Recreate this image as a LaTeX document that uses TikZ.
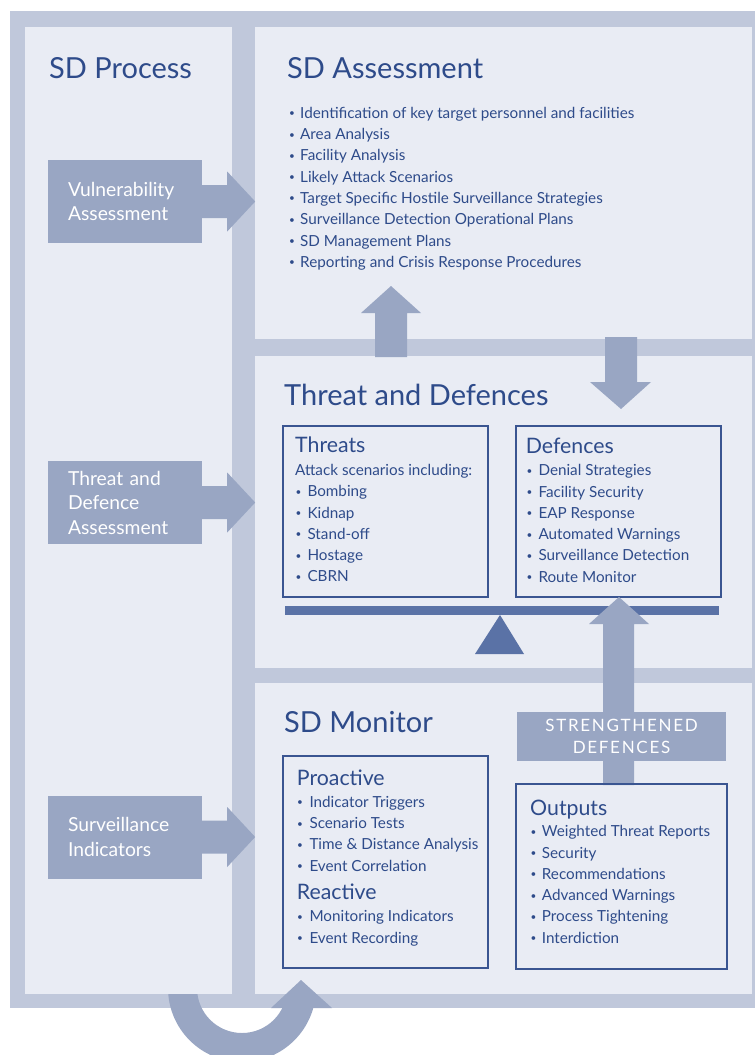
\documentclass[tikz,border=0pt]{standalone}
\usepackage{fontspec}
\setmainfont{Lato}
\usetikzlibrary{calc}
\definecolor{framec}{HTML}{C0C8DB}
\definecolor{panelc}{HTML}{E9ECF4}
\definecolor{arrowc}{HTML}{99A6C3}
\definecolor{textc}{HTML}{2E4B8A}
\definecolor{boxc}{HTML}{3A5591}
\definecolor{beamc}{HTML}{5A72A6}
\tikzset{
  maintitle/.style={anchor=base west,inner sep=0pt,text=textc,font=\fontsize{29}{29}\selectfont},
  subtitle/.style={anchor=base west,inner sep=0pt,text=textc,font=\fontsize{21.3}{21.3}\selectfont},
  itemtext/.style={anchor=base west,inner sep=0pt,text=textc,font=\fontsize{15.25}{15.25}\selectfont},
  bulletdot/.style={anchor=base west,inner sep=0pt,text=textc,font=\fontsize{10}{10}\selectfont,yshift=1.6pt},
  lblbox/.style={fill=arrowc,text=white,minimum width=154pt,minimum height=83pt,text width=114pt,inner xsep=20pt,inner ysep=0pt,align=left,font=\fontsize{19.3}{24.5}\selectfont},
  listbox/.style={draw=boxc,line width=1.6pt,fill=none,inner sep=0pt},
}
\newcommand\sidearrow[1]{%
  \fill[arrowc] ($(#1.east)+(-1,-16.5)$) -- ($(#1.east)+(25,-16.5)$) -- ($(#1.east)+(25,-30)$)
   -- ($(#1.east)+(53,0)$) -- ($(#1.east)+(25,30)$) -- ($(#1.east)+(25,16.5)$) -- ($(#1.east)+(-1,16.5)$) -- cycle;}
\begin{document}
\begin{tikzpicture}[x=1pt,y=-1pt]
\useasboundingbox (0,0) rectangle (755,1055);
\fill[white] (0,0) rectangle (755,1055);
\fill[framec] (10,11) rectangle (755,1008);
% curved return arrow (band)
\fill[arrowc] (168,988) arc[start angle=180,end angle=0,radius=74] -- (287,988) arc[start angle=0,end angle=180,radius=45] -- cycle;
% panels
\fill[panelc] (25,27) rectangle (232,994);
\fill[panelc] (255,27) rectangle (752,339);
\fill[panelc] (255,356) rectangle (752,668);
\fill[panelc] (255,683) rectangle (752,994);
% curved arrow head
\coordinate (ch) at (301,980);
\fill[arrowc] (271,1008) -- (ch) -- (332,1008) -- cycle;

% titles
\node[maintitle] (tp) at (49,78.3) {SD Process};
\node[maintitle] (ta) at (287,78.3) {SD Assessment};
\node[maintitle] (ttd) at (284,405) {Threat and Defences};
\node[maintitle] (tm) at (284,732.7) {SD Monitor};

% assessment list
\foreach \t [count=\i] in {Identification of key target personnel and facilities,Area Analysis,Facility Analysis,Likely Attack Scenarios,Target Specific Hostile Surveillance Strategies,Surveillance Detection Operational Plans,SD Management Plans,Reporting and Crisis Response Procedures}{
  \node[bulletdot] (ab\i) at (288.8,{118.3+21.3*(\i-1)}) {•};
  \node[itemtext] (a\i) at (300,{118.3+21.3*(\i-1)}) {\t};
}

% left process boxes and arrows
\node[lblbox] (va) at (125,201.5) {Vulnerability\\Assessment};
\sidearrow{va}
\node[lblbox] (tda) at (125,502.5) {Threat and\\Defence\\Assessment};
\sidearrow{tda}
\node[lblbox] (si) at (125,837) {Surveillance\\Indicators};
\sidearrow{si}

% up and down arrows between top and middle panels
\coordinate (uptip) at (391,286);
\fill[arrowc] (375,357) -- (375,313) -- (361,313) -- (uptip) -- (421,313) -- (407,313) -- (407,357) -- cycle;
\coordinate (dntip) at (621,409);
\fill[arrowc] (605,337) -- (605,382) -- (590,382) -- (dntip) -- (651,382) -- (637,382) -- (637,337) -- cycle;

% threats box
\node[listbox,minimum width=205pt,minimum height=171pt] (thr) at (385.5,511.5) {};
\node[subtitle] (thrt) at (295,452.3) {Threats};
\node[itemtext] (thra) at (295,475) {Attack scenarios including:};
\foreach \t [count=\i] in {Bombing,Kidnap,Stand-off,Hostage,CBRN}{
  \node[bulletdot] (tb\i) at (295.5,{496.7+21.3*(\i-1)}) {•};
  \node[itemtext] (t\i) at (307.3,{496.7+21.3*(\i-1)}) {\t};
}
% defences box
\node[listbox,minimum width=205pt,minimum height=171pt] (def) at (618.5,511.5) {};
\node[subtitle] (deft) at (525.7,453.3) {Defences};
\foreach \t [count=\i] in {Denial Strategies,Facility Security,EAP Response,Automated Warnings,Surveillance Detection,Route Monitor}{
  \node[bulletdot] (db\i) at (526.3,{475.7+21.3*(\i-1)}) {•};
  \node[itemtext] (d\i) at (538.3,{475.7+21.3*(\i-1)}) {\t};
}
% balance
\fill[beamc] (285,606) rectangle (719,615);
\fill[beamc] (475,654) -- (500,615) -- (524,654) -- cycle;

% strengthened defences arrow
\fill[arrowc] (603,785) -- (603,624) -- (589,624) -- (619,597) -- (649,624) -- (634,624) -- (634,785) -- cycle;
\node[fill=arrowc,minimum width=209pt,minimum height=49pt,inner sep=0pt,align=center,text=white,
  font=\fontsize{17}{21.3}\selectfont\addfontfeature{LetterSpace=10}] (sd) at (621.5,736.5) {STRENGTHENED\\DEFENCES};

% proactive / reactive box
\node[listbox,minimum width=205pt,minimum height=212pt] (pro) at (385.5,862) {};
\node[subtitle] (prot) at (296.7,785) {Proactive};
\foreach \t [count=\i] in {Indicator Triggers,Scenario Tests,Time \& Distance Analysis,Event Correlation}{
  \node[bulletdot] (pb\i) at (297,{807.3+21.3*(\i-1)}) {•};
  \node[itemtext] (p\i) at (309.3,{807.3+21.3*(\i-1)}) {\t};
}
\node[subtitle] (reat) at (296.7,899.3) {Reactive};
\foreach \t [count=\i] in {Monitoring Indicators,Event Recording}{
  \node[bulletdot] (rb\i) at (297,{921.7+21.3*(\i-1)}) {•};
  \node[itemtext] (r\i) at (309.3,{921.7+21.3*(\i-1)}) {\t};
}
% outputs box
\node[listbox,minimum width=211pt,minimum height=185pt] (out) at (621.5,876.5) {};
\node[subtitle] (outt) at (530,815.7) {Outputs};
\foreach \t [count=\i] in {Weighted Threat Reports,Security,Recommendations,Advanced Warnings,Process Tightening,Interdiction}{
  \node[bulletdot] (ob\i) at (530.3,{836.7+21.3*(\i-1)}) {•};
  \node[itemtext] (o\i) at (541.7,{836.7+21.3*(\i-1)}) {\t};
}
\end{tikzpicture}
\end{document}
